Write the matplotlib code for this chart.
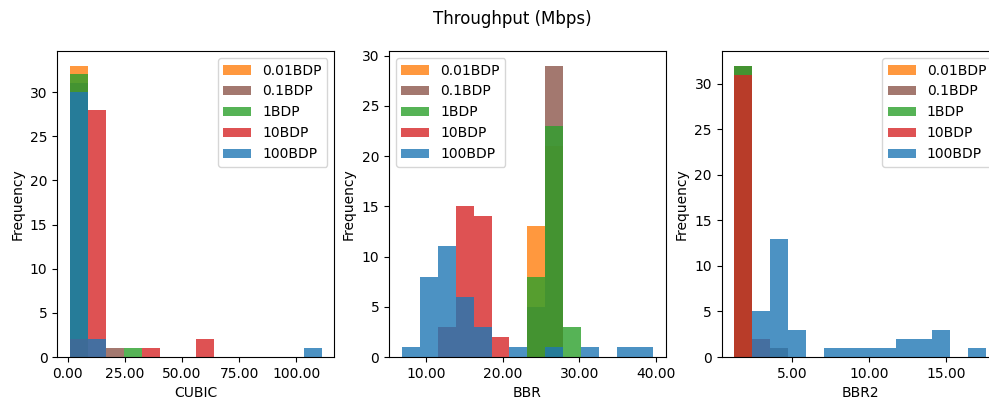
import matplotlib
matplotlib.use('Agg')
import matplotlib.pyplot as plt
from matplotlib.ticker import FormatStrFormatter
import numpy as np

labels = ['0.01BDP', '0.1BDP', '1BDP', '10BDP', '100BDP']
colors = ['tab:orange', 'tab:brown', 'tab:green', 'tab:red', 'tab:blue']
nbins = 14

# counts per bin (14 bins between lo and hi), one list per buffer size
cubic_range = (1.0, 111.1)
cubic_counts = [
    [33, 0, 0, 0, 0, 0, 0, 0, 0, 0, 0, 0, 0, 0],
    [31, 0, 1, 0, 0, 0, 0, 0, 0, 0, 0, 0, 0, 0],
    [32, 0, 0, 1, 0, 0, 0, 0, 0, 0, 0, 0, 0, 0],
    [2, 28, 0, 0, 1, 0, 0, 2, 0, 0, 0, 0, 0, 0],
    [30, 2, 0, 0, 0, 0, 0, 0, 0, 0, 0, 0, 0, 1],
]

bbr_range = (6.81, 39.7)
bbr_counts = [
    [0, 0, 0, 0, 0, 0, 0, 13, 21, 0, 0, 0, 0, 0],
    [0, 0, 0, 0, 0, 0, 0, 5, 29, 0, 0, 0, 0, 0],
    [0, 0, 0, 0, 0, 0, 0, 8, 23, 3, 0, 0, 0, 0],
    [0, 0, 3, 15, 14, 2, 0, 0, 0, 0, 0, 0, 0, 0],
    [1, 8, 11, 6, 3, 0, 1, 0, 1, 0, 1, 0, 1, 1],
]

bbr2_range = (1.22, 17.63)
bbr2_counts = [
    [32, 0, 0, 0, 0, 0, 0, 0, 0, 0, 0, 0, 0, 0],
    [32, 0, 1, 0, 0, 0, 0, 0, 0, 0, 0, 0, 0, 0],
    [32, 0, 0, 0, 0, 0, 0, 0, 0, 0, 0, 0, 0, 0],
    [31, 2, 0, 0, 0, 0, 0, 0, 0, 0, 0, 0, 0, 0],
    [0, 5, 13, 3, 0, 1, 1, 1, 1, 2, 2, 3, 0, 1],
]

panels = [
    ('CUBIC', cubic_range, cubic_counts, 'upper right'),
    ('BBR', bbr_range, bbr_counts, 'upper left'),
    ('BBR2', bbr2_range, bbr2_counts, 'upper right'),
]

fig = plt.figure(figsize=(9.89, 4.04), dpi=100)
lefts = [0.0579, 0.3933, 0.7297]
for left, (name, rng, counts, loc) in zip(lefts, panels):
    ax = fig.add_axes([left, 0.1163, 0.2801, 0.7574])
    edges = np.linspace(rng[0], rng[1], nbins + 1)
    centers = (edges[:-1] + edges[1:]) / 2
    for lab, col, c in zip(labels, colors, counts):
        ax.hist(centers, bins=edges, weights=c, color=col, alpha=0.8, label=lab)
    ax.set_xlabel(name)
    ax.set_ylabel('Frequency')
    ax.xaxis.set_major_formatter(FormatStrFormatter('%.2f'))
    ax.legend(loc=loc)

# third panel runs past the right edge, so the title sits right of centre
fig.suptitle('Throughput (Mbps)', x=0.518, y=0.976)
fig.savefig('out.png', dpi=100)
